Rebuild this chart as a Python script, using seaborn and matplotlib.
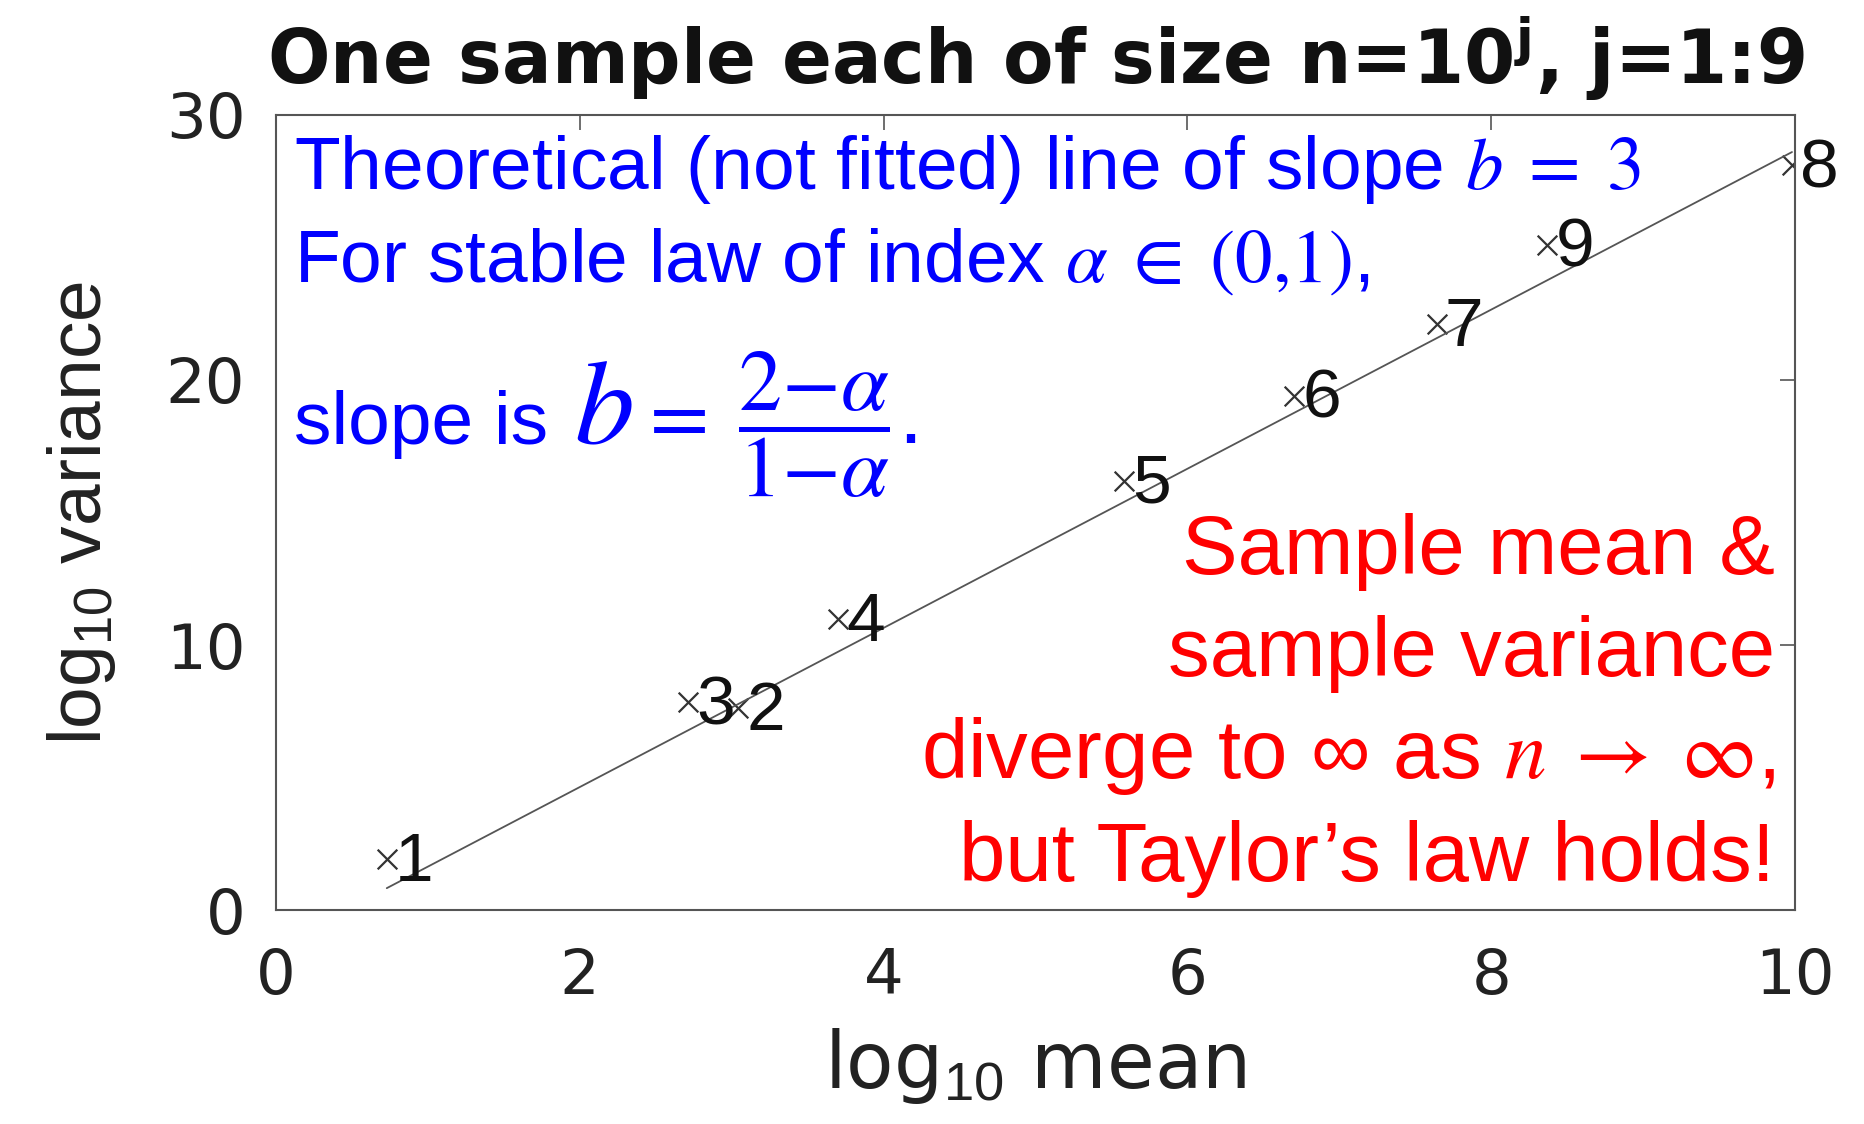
import matplotlib
matplotlib.use('Agg')
import matplotlib.pyplot as plt
from matplotlib import font_manager
import seaborn as sns
import numpy as np
import pandas as pd

# log10 mean / log10 variance for one sample of size n=10^j, j=1..9
j_labels = ['1', '2', '3', '4', '5', '6', '7', '8', '9']
log_mean = [0.73, 3.04, 2.71, 3.70, 5.58, 6.70, 7.64, 9.98, 8.37]
log_var  = [1.93, 7.63, 7.86, 11.0, 16.2, 19.4, 22.1, 28.1, 25.1]

slope_b = 3.0          # theoretical, not fitted
intercept = -1.35

blue_lines = [
    r'Theoretical (not fitted) line of slope $b\;=\;3$',
    r'For stable law of index $\alpha\;\in\;(0{,}1)$,',
]
red_lines = [
    'Sample mean &',
    'sample variance',
    r'diverge to ∞ as $n\;\rightarrow\;\infty$,',
    'but Taylor\u2019s law holds!',
]

sns.set_theme(style='white')
plt.rcParams['font.family'] = ['DejaVu Sans']
plt.rcParams['mathtext.fontset'] = 'custom'
plt.rcParams['mathtext.rm'] = 'Liberation Sans'
plt.rcParams['mathtext.it'] = 'Liberation Sans:italic'
plt.rcParams['mathtext.bf'] = 'DejaVu Sans:bold'

# narrow face for the rotated y label if the system has it
try:
    font_manager.findfont('Liberation Sans Narrow', fallback_to_default=False)
    ylab_family, ylab_size = 'Liberation Sans Narrow', 66
except ValueError:
    ylab_family, ylab_size = 'Liberation Sans', 54

df = pd.DataFrame({'mean': log_mean, 'var': log_var, 'j': j_labels})
line_x = np.array([min(log_mean), max(log_mean)])
line_df = pd.DataFrame({'mean': line_x, 'var': slope_b * line_x + intercept})

fig = plt.figure(figsize=(18.64, 11.24), dpi=100)
ax = fig.add_axes([0.148, 0.190, 0.815, 0.708])

sns.lineplot(data=line_df, x='mean', y='var', color='#555555', lw=1.3, ax=ax)
sns.scatterplot(data=df, x='mean', y='var', marker='x', s=200, color='#333333',
                linewidth=1.6, ax=ax)
for _, r in df.iterrows():
    ax.annotate(r['j'], (r['mean'], r['var']), xytext=(6, -3), textcoords='offset points',
                fontsize=50, family='Liberation Sans', va='center', ha='left', color='#111111')

ax.set_xlim(0, 10)
ax.set_ylim(0, 30)
ax.set_xticks([0, 2, 4, 6, 8, 10])
ax.set_yticks([0, 10, 20, 30])
ax.tick_params(direction='in', length=11, width=1.2, color='#555555',
               top=True, right=True, labelsize=45, labelcolor='#222222')
ax.tick_params(axis='x', pad=26)
ax.tick_params(axis='y', pad=22)
for s in ax.spines.values():
    s.set_visible(True)
    s.set_color('#555555')
    s.set_linewidth(1.5)

ax.set_xlabel(r'log$_{10}$ mean', fontsize=56, color='#222222', labelpad=14)
ax.set_ylabel(r'log$_{10}$ variance', fontsize=ylab_size, color='#222222', labelpad=34,
              family=ylab_family)
ax.set_title(r'One sample each of size n=10$^{\mathbf{j}}$, j=1:9', fontsize=53,
             fontweight='bold', pad=22, color='#111111')

# blue annotation
for txt, yb in zip(blue_lines, [27.2, 23.7]):
    ax.text(0.12, yb, txt, color='#0000ff', fontsize=54, family='Liberation Sans',
            math_fontfamily='stix', va='baseline')
ax.text(0.12, 17.6, 'slope is', color='#0000ff', fontsize=54, family='Liberation Sans',
        va='baseline')
ax.text(1.96, 17.6, r'$b$', color='#0000ff', fontsize=86, math_fontfamily='stix',
        va='baseline')
ax.text(2.38, 17.6, r'$=\;\dfrac{2{-}\alpha}{1{-}\alpha}$.', color='#0000ff', fontsize=62,
        family='Liberation Sans', math_fontfamily='stix', va='baseline')

# red annotation
for i, txt in enumerate(red_lines):
    ax.text(9.87, 12.7 - 3.86 * i, txt, color='#ff0000', fontsize=60,
            family='Liberation Sans', math_fontfamily='stix', va='baseline', ha='right')

fig.savefig('out.png', dpi=100)
